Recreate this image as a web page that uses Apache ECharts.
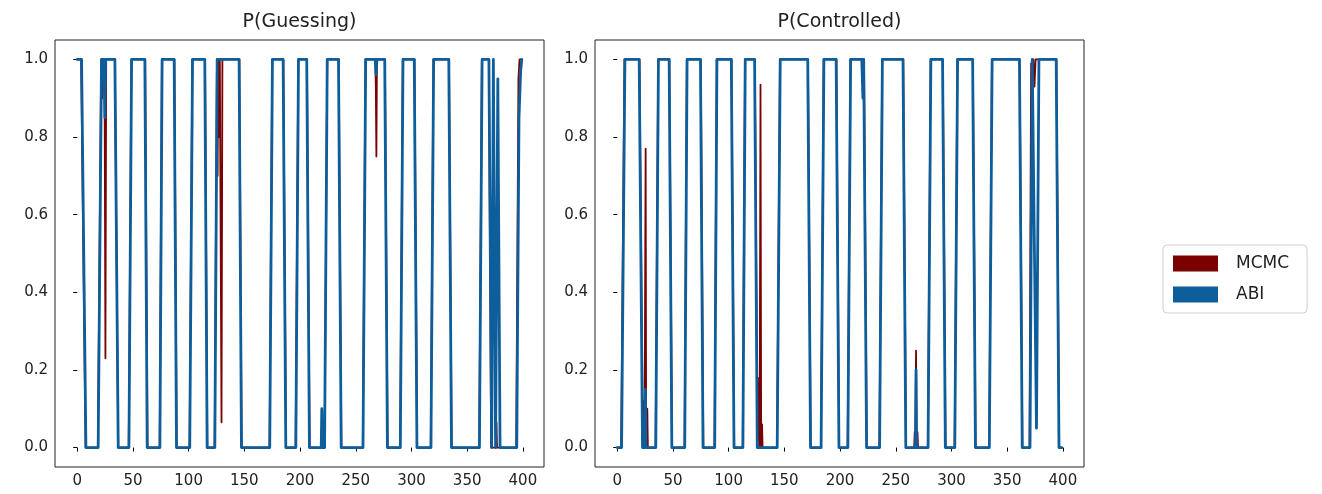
<!DOCTYPE html>
<html>
<head>
<meta charset="utf-8">
<title>P(Guessing) / P(Controlled)</title>
<script src="https://cdn.jsdelivr.net/npm/echarts@6.0.0/dist/echarts.min.js"></script>
<style>
    html, body { margin: 0; padding: 0; background: #fff; }
    #main { width: 1322px; height: 494px; }
</style>
</head>
<body>
<div id="main"></div>
<script>
// tick labels
var xTicks = [0, 50, 100, 150, 200, 250, 300, 350, 400];
var yTicks = [0, 0.2, 0.4, 0.6, 0.8, 1.0];
var titles = ['P(Guessing)', 'P(Controlled)'];
var seriesNames = ['MCMC', 'ABI'];

// P(Guessing), [step, probability] corner points
var guessMCMC = [
    [0, 1], [3.5, 1], [7.5, 0],
    [18.5, 0], [21.5, 1], [22.5, 0.9], [23, 1], [24, 0.92], [24.5, 1], [25.3, 0.23], [26, 1], [33.8, 1], [36.8, 0],
    [46.2, 0], [48.6, 1], [61, 1], [63.1, 0],
    [74, 0], [76, 1], [87.2, 1], [89.3, 0],
    [100.8, 0], [103.3, 1], [114.7, 1], [116.8, 0],
    [123.3, 0], [125.4, 1], [126, 0.7], [126.5, 1], [127.5, 0.8], [128, 1], [129.5, 0.065], [130.3, 1], [145.5, 1], [147.6, 0],
    [172.6, 0], [175, 1], [185, 1], [187.4, 0],
    [196, 0], [198.4, 1], [206.2, 1], [208.6, 0],
    [222, 0], [224.4, 1], [234.7, 1], [237.1, 0],
    [256.3, 0], [258.7, 1], [267.5, 1], [268, 0.93], [268.5, 0.75], [269, 1], [276.2, 1], [278.6, 0],
    [289.8, 0], [292.2, 1], [302.7, 1], [305.1, 0],
    [317.3, 0], [319.7, 1], [333.7, 1], [336.1, 0],
    [360.8, 0], [363.2, 1], [369.5, 1], [371.5, 0], [375.8, 0], [376.3, 0.065], [376.8, 0],
    [394, 0], [396, 0.95], [397, 1], [399, 1]
];
var guessABI = [
    [0, 1], [3.9, 1], [7.8, 0],
    [18.8, 0], [21.8, 1], [24, 1], [24.8, 0.85], [25.5, 1], [33.8, 1], [36.8, 0],
    [46.4, 0], [48.8, 1], [60.7, 1], [62.8, 0],
    [74.2, 0], [76.2, 1], [87, 1], [89.1, 0],
    [101, 0], [103.5, 1], [114.5, 1], [116.6, 0],
    [123.5, 0], [125.6, 1], [145.3, 1], [147.4, 0],
    [172.8, 0], [175.2, 1], [184.8, 1], [187.2, 0],
    [196.2, 0], [198.6, 1], [206, 1], [208.4, 0],
    [219, 0], [219.5, 0.1], [220, 0], [222, 0], [224.4, 1], [234.5, 1], [236.9, 0],
    [256.5, 0], [258.9, 1], [267.5, 1], [268.2, 0.96], [269, 1], [276, 1], [278.4, 0],
    [290, 0], [292.4, 1], [302.5, 1], [304.9, 0],
    [317.5, 0], [319.9, 1], [333.5, 1], [335.9, 0],
    [361, 0], [363.4, 1], [369.5, 1], [372, 0], [373.5, 1], [375.5, 0], [377.5, 0.95], [379.5, 0],
    [394.5, 0], [396.5, 0.85], [398, 0.97], [399, 1]
];

// P(Controlled)
var ctrlMCMC = [
    [0, 0], [3.5, 0], [6.5, 1], [20, 1], [23, 0],
    [24, 0.12], [24.5, 0], [25.5, 0.77], [26, 0], [27, 0.1], [27.5, 0],
    [34.4, 0], [36.8, 1], [46.8, 1], [49.2, 0],
    [60.4, 0], [62.5, 1], [75, 1], [77.3, 0],
    [87.3, 0], [89.3, 1], [102.6, 1], [105, 0],
    [112.6, 0], [114.7, 1], [123.5, 1], [125.9, 0],
    [127.3, 0.18], [127.8, 0], [128.6, 0.935], [129.2, 0], [130, 0.06], [130.5, 0],
    [143.4, 0], [146.1, 1], [171.2, 1], [173.7, 0],
    [182.8, 0], [185.3, 1], [196.7, 1], [199.2, 0],
    [206.8, 0], [209.3, 1], [221.5, 1], [224, 0],
    [235.3, 0], [237.8, 1], [256.7, 1], [259.2, 0],
    [266.5, 0], [267, 0.04], [267.5, 0], [268.2, 0.25], [268.7, 0], [269.5, 0.04], [270, 0],
    [278.8, 0], [281.3, 1], [292.2, 1], [294.7, 0],
    [302.8, 0], [305.3, 1], [319.2, 1], [321.7, 0],
    [333.8, 0], [336.3, 1], [361.2, 1], [363.7, 0],
    [370, 0], [371.5, 0.99], [372.5, 0.95], [373.5, 1], [374.5, 0.93], [375.5, 1], [394.2, 1], [396.7, 0], [399, 0]
];
var ctrlABI = [
    [0, 0], [3.9, 0], [6.9, 1], [19.7, 1], [22.7, 0],
    [24.8, 0], [25.3, 0.15], [25.8, 0],
    [34.6, 0], [37, 1], [46.6, 1], [49, 0],
    [60.6, 0], [62.7, 1], [74.7, 1], [77, 0],
    [87.5, 0], [89.5, 1], [102.4, 1], [104.8, 0],
    [112.8, 0], [114.9, 1], [123.3, 1], [125.7, 0],
    [143.6, 0], [146.3, 1], [171, 1], [173.5, 0],
    [183, 0], [185.5, 1], [196.5, 1], [199, 0],
    [207, 0], [209.5, 1], [219.5, 1], [220.5, 0.9], [221.2, 1], [221.5, 1], [223.8, 0],
    [235.5, 0], [238, 1], [256.5, 1], [259, 0],
    [267.7, 0], [268.2, 0.2], [268.7, 0],
    [279, 0], [281.5, 1], [292, 1], [294.5, 0],
    [303, 0], [305.5, 1], [319, 1], [321.5, 0],
    [334, 0], [336.5, 1], [361, 1], [363.5, 0],
    [370.5, 0], [372.5, 1], [373.5, 1], [376.3, 0.05], [378.5, 1], [394, 1], [396.5, 0], [399, 0]
];

var RED = '#7b0000';
var BLUE = '#0f5e9c';
var FONT = 'DejaVu Sans';
var INK = '#222';

function makeX(i) {
    return {
        type: 'value', gridIndex: i, min: -19.95, max: 418.95,
        axisLine: { show: false },
        splitLine: { show: false },
        axisTick: { show: true, inside: false, length: 4, customValues: xTicks, lineStyle: { color: '#000', width: 1 } },
        axisLabel: { customValues: xTicks, color: INK, fontSize: 15, fontFamily: FONT, margin: 7,
            formatter: function (v) { return String(v); } }
    };
}
function makeY(i) {
    return {
        type: 'value', gridIndex: i, min: -0.05, max: 1.05,
        axisLine: { show: false },
        splitLine: { show: false },
        axisTick: { show: true, inside: false, length: 4, customValues: yTicks, lineStyle: { color: '#000', width: 1 } },
        axisLabel: { customValues: yTicks, color: INK, fontSize: 15, fontFamily: FONT, margin: 7,
            formatter: function (v) { return v.toFixed(1); } }
    };
}
function line(name, data, i, color, width) {
    return {
        name: name, type: 'line', xAxisIndex: i, yAxisIndex: i,
        data: data, showSymbol: false, symbol: 'none', silent: true,
        color: color,
        lineStyle: { color: color, width: width, cap: 'round', join: 'round' }
    };
}

var chart = echarts.init(document.getElementById('main'), null, { renderer: 'canvas' });
var option = {
    animation: false,
    backgroundColor: '#fff',
    graphic: [
        { type: 'text', x: 299.5, y: 22, style: { text: titles[0], fontSize: 19, fontFamily: FONT, fill: INK,
            align: 'center', verticalAlign: 'middle', textAlign: 'center', textVerticalAlign: 'middle' } },
        { type: 'text', x: 839.5, y: 22, style: { text: titles[1], fontSize: 19, fontFamily: FONT, fill: INK,
            align: 'center', verticalAlign: 'middle', textAlign: 'center', textVerticalAlign: 'middle' } }
    ],
    grid: [
        { left: 55, top: 40, width: 489, height: 427, show: true, borderColor: INK, borderWidth: 1, backgroundColor: 'transparent' },
        { left: 595, top: 40, width: 489, height: 427, show: true, borderColor: INK, borderWidth: 1, backgroundColor: 'transparent' }
    ],
    xAxis: [makeX(0), makeX(1)],
    yAxis: [makeY(0), makeY(1)],
    legend: {
        data: seriesNames,
        orient: 'vertical',
        left: 1163, top: 245,
        icon: 'rect',
        itemWidth: 45, itemHeight: 16, itemGap: 14,
        padding: [10, 18, 10, 10],
        borderColor: '#d0d0d0', borderWidth: 1, borderRadius: 4,
        textStyle: { fontSize: 17, fontFamily: FONT, color: INK, padding: [0, 0, 0, 13] }
    },
    series: [
        line(seriesNames[0], guessMCMC, 0, RED, 1.8),
        line(seriesNames[1], guessABI, 0, BLUE, 2.8),
        line(seriesNames[0], ctrlMCMC, 1, RED, 1.8),
        line(seriesNames[1], ctrlABI, 1, BLUE, 2.8)
    ]
};
chart.setOption(option);
</script>
</body>
</html>
